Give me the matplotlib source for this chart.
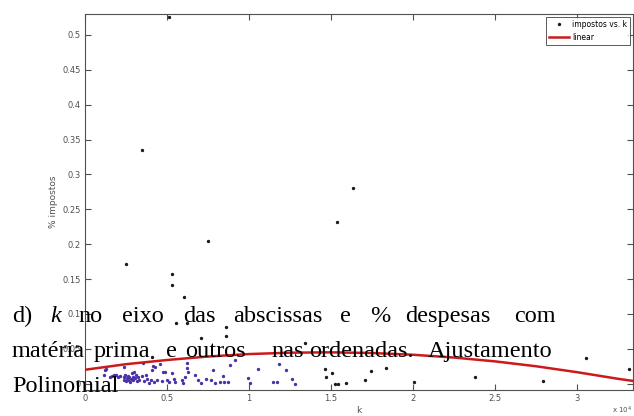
import matplotlib
matplotlib.use("Agg")
import matplotlib.pyplot as plt
from matplotlib.ticker import FuncFormatter


## DATA ##

# k values and % impostos, the sparse black points
k_main = [5140, 3480, 2500, 5280, 5300, 7500, 15380, 16360, 6060, 5530,
          6240, 7090, 8600, 8600, 13410, 4100,
          14630, 14700, 15040, 15240, 15450, 15900, 17070, 17420, 18350,
          20060, 23740, 27900, 30550, 33130]
pct_main = [0.525, 0.335, 0.171, 0.158, 0.142, 0.204, 0.232, 0.280, 0.125, 0.087,
            0.087, 0.065, 0.082, 0.068, 0.058, 0.038,
            0.021, 0.010, 0.015, 0.000, 0.000, 0.001, 0.005, 0.018, 0.023,
            0.002, 0.010, 0.004, 0.037, 0.021]

# the dense cluster near the bottom left (comes out bluish in the scan)
k_low = [1220, 1180, 1280, 1500, 1650, 1750, 1900, 2000, 2150,
         2350, 2400, 2450, 2500, 2550, 2600, 2650, 2700, 2750, 2800, 2850,
         2900, 2950, 3000, 3050, 3100, 3150, 3200, 3300, 2380,
         3500, 3600, 3700, 3800, 3900, 4000, 4070, 4270, 4200, 4400, 3560,
         4170, 4600, 4770, 4700, 4880, 5000, 5100, 5320, 5400, 5500,
         5900, 6000, 6100, 6200, 6240, 6300, 6700, 6900, 7100, 7400,
         7700, 7800, 7900, 8200, 8400, 8500, 8700, 8840, 9150,
         9960, 10060, 10570, 11480, 11690, 11850, 12260, 12600, 12800]
pct_low = [0.019, 0.013, 0.021, 0.010, 0.011, 0.012, 0.013, 0.009, 0.011,
           0.010, 0.006, 0.013, 0.004, 0.008, 0.011, 0.006, 0.009, 0.003, 0.007, 0.015,
           0.010, 0.005, 0.017, 0.008, 0.012, 0.004, 0.009, 0.006, 0.024,
           0.011, 0.004, 0.013, 0.007, 0.001, 0.006, 0.020, 0.024, 0.003, 0.005, 0.029,
           0.026, 0.028, 0.017, 0.004, 0.017, 0.006, 0.002, 0.015, 0.007, 0.003,
           0.006, 0.001, 0.010, 0.029, 0.022, 0.017, 0.013, 0.005, 0.001, 0.007,
           0.005, 0.019, 0.001, 0.002, 0.011, 0.002, 0.002, 0.027, 0.034,
           0.008, 0.001, 0.021, 0.002, 0.002, 0.028, 0.019, 0.007, 0.000]

# fitted curve, read at a few k values
k_fit = [0, 2500, 5000, 7500, 10000, 12500, 15000, 17500, 20000,
         22500, 25000, 27500, 30000, 32500, 33400]
pct_fit = [0.020, 0.028, 0.034, 0.039, 0.0425, 0.0445, 0.045, 0.044, 0.0415,
           0.0375, 0.032, 0.025, 0.0165, 0.007, 0.004]

y_ticks = [0, 0.05, 0.1, 0.15, 0.2, 0.25, 0.3, 0.35, 0.4, 0.45, 0.5]
x_ticks = [0, 5000, 10000, 15000, 20000, 25000, 30000]

text_line_1 = [("d)", 12, "normal"), ("k", 50, "italic"), ("no", 78, "normal"),
               ("eixo", 122, "normal"), ("das", 183, "normal"), ("abscissas", 233, "normal"),
               ("e", 340, "normal"), ("%", 370, "normal"), ("despesas", 405, "normal"),
               ("com", 514, "normal")]
text_line_2 = [("matéria", 12), ("prima", 94), ("e", 166), ("outros", 185), ("nas", 271),
               ("ordenadas.", 309), ("Ajustamento", 428)]
text_line_3 = [("Polinomial", 12)]


## FIGURE ##

W, H = 634, 416
fig = plt.figure(figsize=(W/100, H/100), dpi=100)
ax = fig.add_axes([85/W, 1 - 390/H, (633 - 85)/W, (390 - 14)/H])

tick_font = ["Liberation Sans Narrow", "DejaVu Sans"]
gray = "#505050"

ax.plot(k_main, pct_main, ".", color="#1a1a1a", markersize=2.8, label="impostos vs. k", zorder=3)
ax.plot(k_low, pct_low, ".", color="#4b32a8", markersize=2.8, zorder=3)
ax.plot(k_fit, pct_fit, "-", color="#cc1a1a", linewidth=1.8, label="linear", zorder=4)

ax.set_xlim(0, 33400)
ax.set_ylim(-0.009, 0.53)
ax.set_xticks(x_ticks)
ax.set_yticks(y_ticks)
ax.xaxis.set_major_formatter(FuncFormatter(lambda v, p: "%g" % (v/1e4)))
ax.yaxis.set_major_formatter(FuncFormatter(lambda v, p: "%g" % v))
ax.tick_params(direction="in", length=4, width=0.8, colors=gray, labelsize=6,
               top=True, right=True, pad=3)
for lab in ax.get_xticklabels() + ax.get_yticklabels():
    lab.set_family(tick_font)
for side in ax.spines:
    ax.spines[side].set_color(gray)
    ax.spines[side].set_linewidth(0.8)

ax.set_xlabel("k", fontsize=6.5, color=gray, family=tick_font, labelpad=2)
ax.set_ylabel("% impostos", fontsize=6.5, color=gray, family=tick_font, labelpad=3)
fig.text(612/W, 1 - 414/H, r"x 10$^4$", fontsize=5, color=gray, family=tick_font, va="baseline")

leg = ax.legend(loc="upper right", frameon=True, fancybox=False,
                borderaxespad=0.4, handlelength=2.6, handletextpad=0.4,
                borderpad=0.4, labelspacing=0.45, prop={"family": tick_font, "size": 5.5})
leg.get_frame().set_edgecolor("#303030")
leg.get_frame().set_linewidth(0.7)


## OVERLAID SCANNED TEXT ##

serif = ["Liberation Serif", "DejaVu Serif"]
text_size = 17.5

for word, x_px, style in text_line_1:
    fig.text(x_px/W, 1 - 322/H, word, fontsize=text_size, family=serif,
             style=style, va="baseline", ha="left", zorder=10)
for word, x_px in text_line_2:
    fig.text(x_px/W, 1 - 357/H, word, fontsize=text_size, family=serif,
             va="baseline", ha="left", zorder=10)
for word, x_px in text_line_3:
    fig.text(x_px/W, 1 - 392/H, word, fontsize=text_size, family=serif,
             va="baseline", ha="left", zorder=10)

fig.savefig("out.png", dpi=100)
